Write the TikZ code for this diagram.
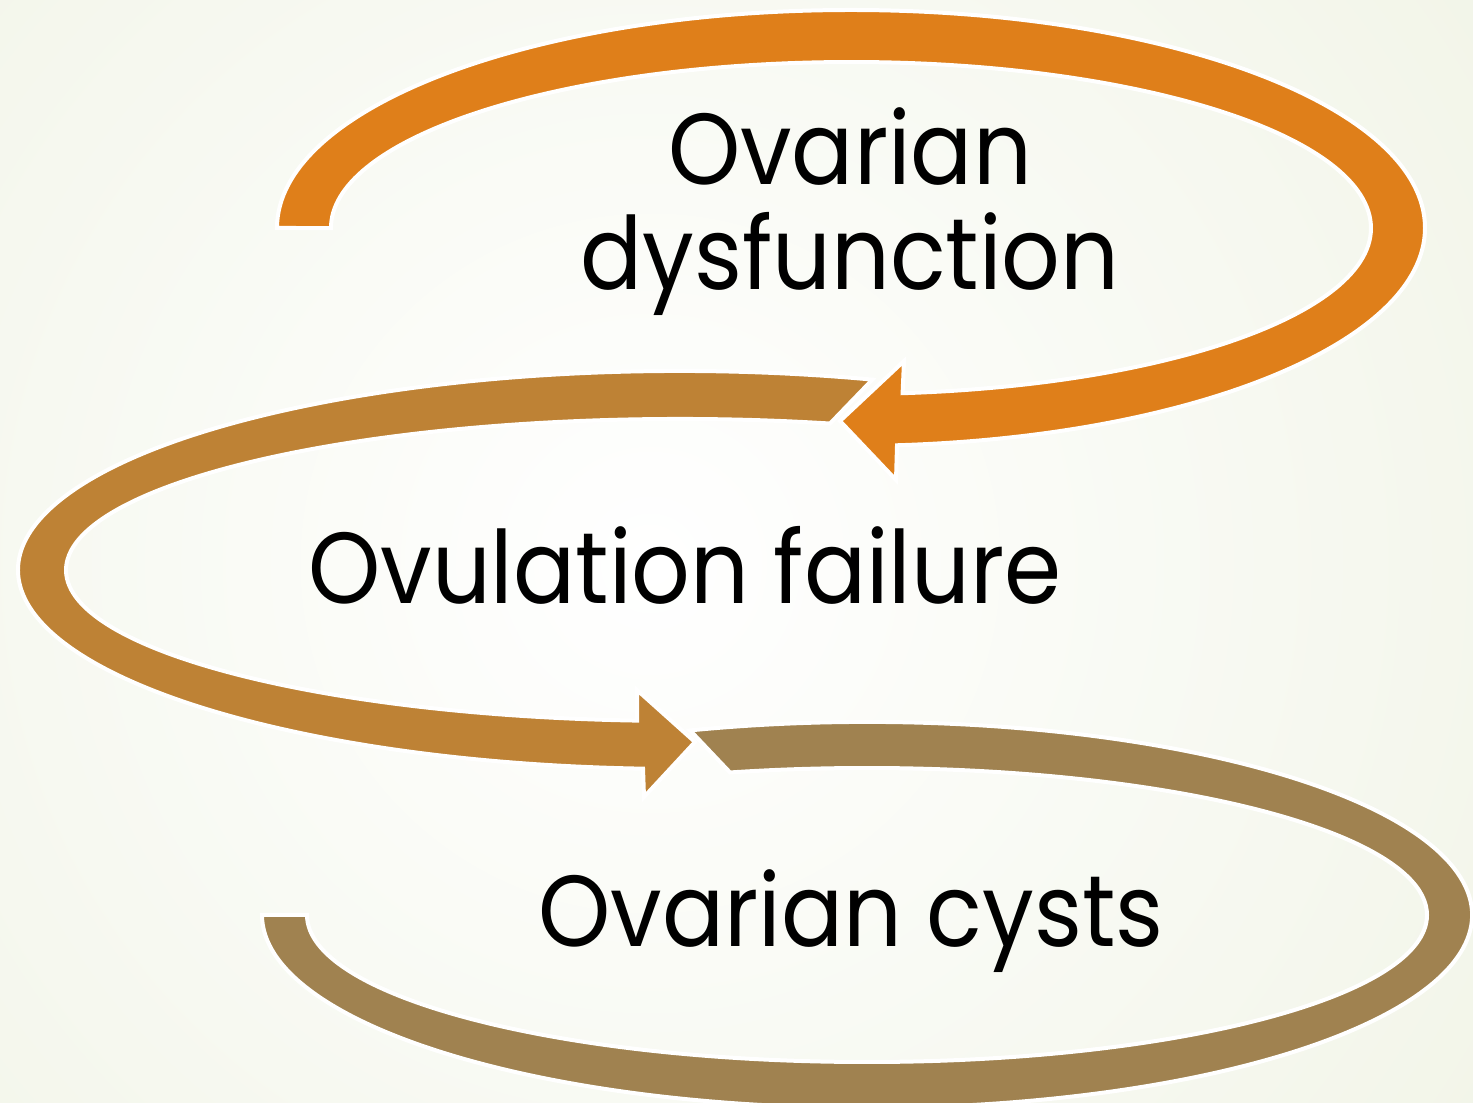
\documentclass[tikz,border=0pt]{standalone}
\usepackage{fontspec}
\setmainfont[FakeStretch=0.91]{Poppins}
\definecolor{bgout}{HTML}{E4EAD0}
\definecolor{cA}{HTML}{DF7F1A}
\definecolor{cB}{HTML}{BE8235}
\definecolor{cC}{HTML}{A08250}
\tikzset{
  band/.style={draw=white, line width=4pt, line join=miter},
  lbl/.style={text=black, inner sep=0pt, anchor=base, align=center, font=\fontsize{101}{105}\selectfont}
}
\begin{document}
\begin{tikzpicture}[x=1pt,y=1pt]
\useasboundingbox (0,0) rectangle (1473,1103);
\clip (0,0) rectangle (1473,1103);
\shade[inner color=white, outer color=bgout] (650,540) circle (2100);
% band 3 (bottom)
\coordinate (b3s) at (690.1,372.6);
\filldraw[band, fill=cC] (b3s) arc[start angle=107, end angle=-180, x radius=605, y radius=193]
  -- (307,188) arc[start angle=-180, end angle=104.16, x radius=560, y radius=147] -- cycle;
% band 2 (middle)
\coordinate (b2s) at (872.4,723.4);
\filldraw[band, fill=cB] (b2s) arc[start angle=73.1, end angle=266.8, x radius=662, y radius=199]
  -- (644,306) -- (695,361) -- (637,413) -- (637.2,382.4)
  arc[start angle=266, end angle=75.86, x radius=614, y radius=151] -- cycle;
% band 1 (top)
\coordinate (b1s) at (277,875);
\filldraw[band, fill=cA] (b1s) arc[start angle=180, end angle=-85.4, x radius=574, y radius=218]
  -- (896,623) -- (840,682) -- (904,742) -- (902.6,709.8)
  arc[start angle=-84.3, end angle=180, x radius=520, y radius=166] -- cycle;
% labels
\node[lbl] (t1) at (850,813) {Ovarian\\dysfunction};
\node[lbl] (t2) at (685,499) {Ovulation failure};
\node[lbl] (t3) at (851,156) {Ovarian cysts};
\end{tikzpicture}
\end{document}
